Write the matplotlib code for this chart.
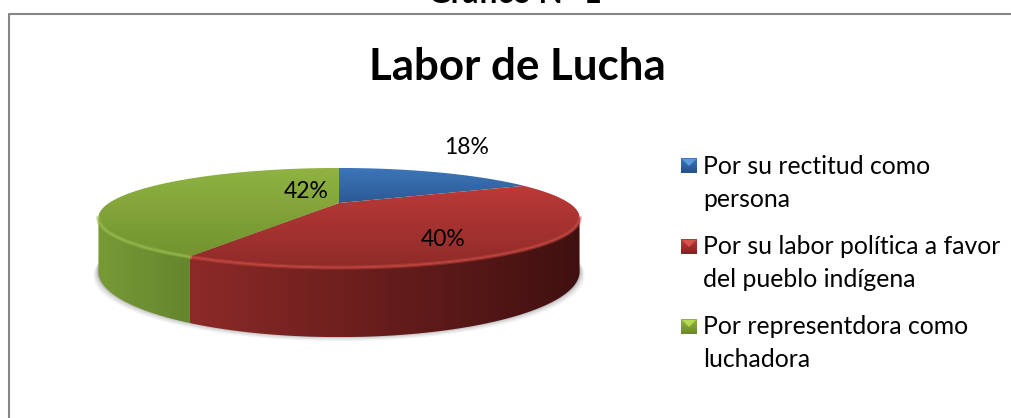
import numpy as np
import matplotlib
matplotlib.use('Agg')
import matplotlib.pyplot as plt
from matplotlib.patches import Polygon
from matplotlib.colors import LinearSegmentedColormap

plt.rcParams['font.family'] = ['Lato', 'DejaVu Sans']

# Data
title = 'Labor de Lucha'
caption = 'Gráfico N° 1'
values = [18, 40, 42]
pct_labels = ['18%', '40%', '42%']
legend_labels = ['Por su rectitud como\npersona',
                 'Por su labor política a favor\ndel pueblo indígena',
                 'Por representdora como\nluchadora']

# top gradient (light, dark), wall gradient (left, right)
top_colors = [('#3d76bb', '#2b5a94'), ('#bc3a37', '#8f2b29'), ('#90b343', '#72932f')]
wall_colors = [('#2b5a94', '#1d3f69'), ('#8c2a28', '#401010'), ('#789a36', '#65852e')]
bevel_colors = ['#5a8fd0', '#c4463f', '#95b84a']
swatch_dark = ['#24508a', '#7e2422', '#6a8a2c']
swatch_light = ['#5c9ae0', '#d8524c', '#b4d84e']

# Pie geometry in pixels, with a perspective tilt
cx, cy = 339, 203
A, B, p = 230, 45.3, 0.293
depth = 49.5


def project(t):
    u, v = np.sin(t), np.cos(t)
    w = 1 + p * v
    return cx + A * u / w, cy - B * v / w, depth / w


fig = plt.figure(figsize=(10.11, 4.18), dpi=100)
ax = fig.add_axes([0, 0, 1, 1])
ax.set_xlim(0, 1011)
ax.set_ylim(418, 0)
ax.axis('off')

# Frame of the chart, it runs off the right and bottom edges
ax.plot([8.5, 8.5, 1011], [418, 13.5, 13.5], color='#868686', lw=1.5, zorder=1)
ax.text(515, 3, caption, ha='center', va='baseline', fontsize=22.7, fontweight='bold', color='black')
ax.text(517, 67, title, ha='center', va='center', fontsize=31.6, fontweight='bold', color='black')


def gradient_fill(poly_xy, c1, c2, horizontal, zorder):
    xs, ys = poly_xy[:, 0], poly_xy[:, 1]
    cmap = LinearSegmentedColormap.from_list('g', [c1, c2])
    grad = np.linspace(0, 1, 256)
    grad = grad.reshape(1, -1) if horizontal else grad.reshape(-1, 1)
    im = ax.imshow(grad, cmap=cmap, aspect='auto', zorder=zorder,
                   extent=[xs.min(), xs.max(), ys.max(), ys.min()])
    patch = Polygon(poly_xy, closed=True, transform=ax.transData, fc='none', ec='none')
    ax.add_patch(patch)
    im.set_clip_path(patch)


fracs = np.cumsum([0] + values) / sum(values)
edges = 2 * np.pi * fracs

# Soft shadow under the pie
tt = np.linspace(0, 2 * np.pi, 300)
x, y, d = project(tt)
for grow, alpha in zip([5, 3.5, 2, 1], [0.05, 0.07, 0.09, 0.12]):
    ax.add_patch(Polygon(np.c_[cx + (x - cx) * (1 + grow / 240), y + d + grow - 1], fc='black', ec='none', alpha=alpha, zorder=2))

# Side walls, only the front of the rim can be seen
for i in range(3):
    t = np.linspace(edges[i], edges[i + 1], 400)
    x, y, d = project(t)
    front = np.cos(t) < -p
    if front.sum() < 2:
        continue
    xf, yf, df = x[front], y[front], d[front]
    poly = np.r_[np.c_[xf, yf], np.c_[xf, yf + df][::-1]]
    gradient_fill(poly, wall_colors[i][0], wall_colors[i][1], True, 3)

# Top faces
for i in range(3):
    t = np.linspace(edges[i], edges[i + 1], 400)
    x, y, d = project(t)
    poly = np.r_[[[cx, cy]], np.c_[x, y]]
    gradient_fill(poly, top_colors[i][0], top_colors[i][1], False, 4)
    # soft lighter bevel along the front rim
    rim = np.cos(t) < -p
    if rim.sum() > 1:
        ax.plot(x[rim], y[rim] + 0.5, color=bevel_colors[i], lw=3, alpha=0.45, zorder=5)
        ax.plot(x[rim], y[rim] + 0.5, color=bevel_colors[i], lw=1.2, alpha=0.8, zorder=5)

# Labels sit at fixed spots beside or on the slices
label_x = [467, 443, 306]
label_y = [148, 240, 191]
for i in range(3):
    ax.text(label_x[i], label_y[i], pct_labels[i], ha='center', va='center', fontsize=16.5, color='black', zorder=6)

# Legend
leg_y = [166, 247, 327]
text_y = [183, 263, 343]
for i in range(3):
    grad = np.linspace(0, 1, 32).reshape(-1, 1)
    cmap = LinearSegmentedColormap.from_list('l', [top_colors[i][0], swatch_dark[i]])
    ax.imshow(grad, cmap=cmap, aspect='auto', extent=[681, 697, leg_y[i] + 7.5, leg_y[i] - 7.5], zorder=3)
    ax.add_patch(Polygon([[682, leg_y[i] - 7], [696, leg_y[i] - 7], [689, leg_y[i]]], fc=swatch_light[i], ec='none', zorder=4))
    ax.text(703, text_y[i], legend_labels[i], ha='left', va='center', fontsize=17.8, color='black', linespacing=1.51)

ax.set_xlim(0, 1011)
ax.set_ylim(418, 0)
fig.savefig('out.png', dpi=100, facecolor='white')
